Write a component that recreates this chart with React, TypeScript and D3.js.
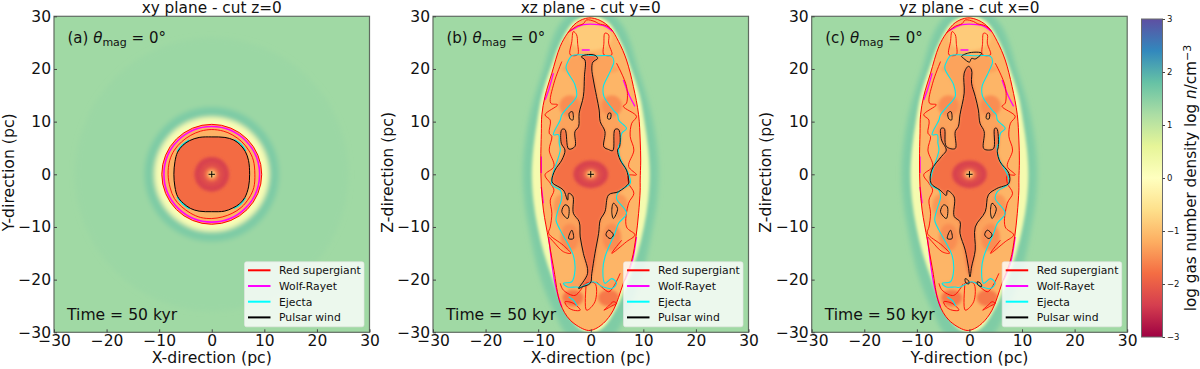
import React, { useEffect, useRef } from 'react';
import * as d3 from 'd3';

type Pt = [number, number];

/* tick + colour data */
const TICKS = [-30, -20, -10, 0, 10, 20, 30];
const CBAR_TICKS = [-3, -2, -1, 0, 1, 2, 3];
const SPECTRAL = ['#9e0142', '#d53e4f', '#f46d43', '#fdae61', '#fee08b', '#ffffbf', '#e6f598', '#abdda4', '#66c2a5', '#3288bd', '#5e4fa2'];
const LEGEND_NAMES = ['Red supergiant', 'Wolf-Rayet', 'Ejecta', 'Pulsar wind'];
const LEGEND_COLORS = ['#ff0000', '#ff00ff', '#00ffff', '#000000'];
const BACKGROUND_N = 1.3;

/* panel (a): radial density profile, outer to inner: radius pc, log n */
const RING_R = [26, 12.8, 10.9, 9.5, 7.2, 3.3, 2.2, 1.3, 0.6];
const RING_N = [1.34, 1.6, 0.15, -1.15, -1.82, -2.35, -2.2, -1.7, -0.6];
const A_RED_R = 9.5;
const A_MAGENTA_R = 9.1;
const A_RED_INNER: Pt[] = [[0, 8.5], [2.2, 8.2], [3.9, 7.5], [5.7, 6.2], [7, 4.6], [7.9, 2.7], [8.2, 0], [8, -2.5], [7.1, -4.5], [5.6, -6.3], [3.9, -7.4], [2, -8.1], [0, -8.4], [-2.1, -8.2], [-4, -7.4], [-5.8, -6.1], [-7.1, -4.6], [-7.9, -2.6], [-8.3, 0], [-8, 2.6], [-7.1, 4.6], [-5.7, 6.2], [-4, 7.4], [-2.1, 8.2]];
const A_BLACK: Pt[] = [[0, 7.1], [2.5, 7], [4.2, 6.5], [5.4, 5.6], [6.4, 4.3], [7, 2.6], [7.2, 0], [7, -2.4], [6.3, -4.4], [5.3, -5.6], [4, -6.4], [2.4, -7], [0, -7.1], [-2.4, -7], [-4, -6.5], [-5.4, -5.5], [-6.5, -4.2], [-7, -2.4], [-7.2, 0], [-7, 2.4], [-6.5, 4.2], [-5.5, 5.5], [-4.2, 6.4], [-2.4, 7]];
const A_CYAN: Pt[][] = [
  [[4.3, 6.6], [5.6, 5.7], [6.5, 4.4]],
  [[6.4, -4.5], [5.5, -5.7], [4.2, -6.5]],
  [[-4.2, -6.6], [-5.6, -5.6], [-6.6, -4.3]],
  [[-6.6, 4.3], [-5.6, 5.6], [-4.3, 6.5]],
];

/* panels (b,c): halo half-widths against height */
const YELLOW_HALF: Pt[] = [[0.4, 30.2], [3.2, 29], [5.8, 25], [7.7, 20], [9.3, 15], [10.2, 10], [10.9, 5], [11.2, 0], [10.9, -5], [10.1, -10], [8.9, -15], [7.2, -20], [5.1, -25], [2.5, -29], [0.4, -30.2]];
const TEAL_HALF: Pt[] = [[3, 31], [6.2, 28], [9, 20], [11.4, 12], [12.6, 5], [12.9, 0], [12.6, -5], [11.8, -10], [9.8, -19], [7, -26], [3.8, -31]];

/* outer shock */
const OUTER: Pt[] = [[-0.4, 29.7], [1.8, 29.2], [3.7, 27.8], [5.3, 25.2], [6.8, 21.7], [8.1, 16.7], [9.1, 11.3], [9.4, 6.5], [9.5, 2.7], [9.4, -1.1], [9.4, -3], [9.1, -7.4], [8.6, -11.9], [7.8, -16.3], [6.2, -20.7], [4.3, -25.8], [2.4, -28.3], [0.5, -29.5], [-0.8, -29.6], [-3.9, -27.7], [-5.8, -24.5], [-7, -18.2], [-8, -12.5], [-9, -6.8], [-9.4, -2.4], [-9.5, 2.7], [-9.4, 7.8], [-9.3, 11.3], [-8.7, 14.8], [-7.4, 19.2], [-5.8, 24.3], [-4.4, 26.8], [-2.7, 28.8]];

/* red inner contours */
const RED_LOOPS: Pt[][] = [
  [[-3.3, 27.1], [-2.7, 26.5], [-2.5, 24.9], [-2.5, 22.7], [-3.9, 22.7], [-3.6, 25.2]],
  [[2.7, 26.8], [3.4, 26.5], [3.4, 24.9], [4, 22.7], [2.5, 22.7], [2.5, 24.9]],
  [[-0.9, -20.7], [0.8, -20.7], [0.8, -24.2], [-0.8, -25.8], [-0.9, -21]],
  [[-4.9, -24.2], [-3.3, -24.5], [-2, -25.8], [-3.3, -25.8], [-4.4, -25.2]],
  [[4.9, -24.5], [4, -25], [2.5, -25.8], [3.4, -25], [4.3, -24.2]],
];
const RED_LINES: Pt[][] = [
  [[-4.4, 26.8], [-2.7, 28.1], [-1.4, 28.6], [-0.8, 29.3], [0.8, 29], [1.5, 28.6], [3, 28.2], [4, 27.4]],
  [[-5.5, 21.4], [-7, 17.3], [-7.6, 13.5], [-6.3, 13.2], [-8.7, 11.3], [-7.7, 10.3], [-7.9, 7.8], [-7.4, 7.2], [-7.9, 4.6], [-7, 1.5], [-8.7, -0.1], [-7.7, -1.7], [-7, -3], [-7.7, -4.9], [-7.4, -7.4], [-7.7, -10], [-8, -11.2], [-5.2, -13.5], [-3.8, -15], [-5.2, -14.7], [-7.1, -12.8], [-7.9, -11.9]],
  [[4.9, 21.1], [6.8, 16.7], [6.8, 13.5], [6.2, 12.9], [8.7, 11], [7.8, 9.7], [7.5, 7.2], [8.2, 4.6], [7.2, 1.5], [8.7, -0.1], [7.2, -0.2], [7.2, -1.7], [8.2, -3.6], [7.2, -5.5], [6.8, -10], [8.4, -11.5], [6.8, -12.8], [4, -15], [5.9, -12.5]],
  [[5.6, -18.8], [4.3, -21.4], [3.4, -22.3], [1.1, -20.4]],
  [[-5.8, -20.7], [-5.2, -22], [-3, -23], [-1.2, -20.8]],
];
const MAGENTA_LINES: Pt[][] = [
  [[6.2, 17.9], [7.4, 14.8], [8.4, 12.9]],
  [[-7.1, 19.2], [-8, 16], [-8.7, 14.1]],
  [[-9.4, 3.4], [-9.4, 0.2]],
  [[-9.4, -2.4], [-9, -5.5]],
  [[-8, -11.9], [-6.8, -20.7], [-5.5, -25.2]],
  [[8.7, -11.9], [7.8, -16.9], [6.5, -20.1]],
  [[-4, 27.2], [-2.7, 27.9], [-1.4, 28.4], [1.5, 28.4], [3, 28], [4.2, 27.1]],
  [[-1.7, 23.6], [-0.2, 23.6]],
];

/* ejecta */
const CYAN: Pt[] = [[-4.2, 21.7], [-3.6, 22.5], [-2, 22.7], [0.8, 22.5], [4, 22.4], [4.4, 21.4], [4, 20.2], [3.4, 18.9], [2.4, 16.7], [2.5, 14.8], [4.3, 12.2], [5.1, 11.3], [5.3, 10.3], [6.8, 8.7], [5.9, 7.8], [5.6, 5.9], [5.3, 5.3], [5.6, 3], [7.2, 0], [7.5, -1.7], [5.3, -3.3], [4.9, -4.6], [6.8, -7.4], [5.3, -9.3], [4.6, -11.2], [2.7, -15.7], [2.3, -18.2], [2.7, -20.7], [4, -19.8], [4.9, -20.7], [4, -21.7], [2.4, -21.4], [0.5, -20.4], [-2, -21.5], [-2.7, -21.4], [-4.4, -21.4], [-5.2, -20.7], [-3.6, -20.4], [-3, -18.2], [-3.3, -15.4], [-4.4, -13.1], [-5.8, -10.6], [-6.6, -8.7], [-6.3, -7.1], [-5.5, -4.3], [-5.8, -3], [-7.4, -2], [-7.2, 0], [-5.8, 4.6], [-6, 5.9], [-6.1, 7.5], [-7.1, 7.5], [-5.8, 10.3], [-5.5, 11.3], [-4.2, 12.9], [-2.7, 14.8], [-3, 17], [-4.7, 20.2]];
const CYAN_BIT: Pt[] = [[-4.2, -23.3], [-3.2, -24], [-2.6, -25]];

/* pulsar wind */
const BLACK_B: Pt[] = [[-1.8, 22.3], [-0.8, 22.7], [0.8, 22.6], [1.3, 22], [0.4, 21.3], [0.2, 20], [0.5, 17.9], [1.1, 14.8], [1.6, 12.2], [1.8, 10], [2.7, 8.1], [2.5, 5.2], [3.4, 4.7], [4.2, 4.5], [4.6, 8.5], [5.3, 8.5], [5.5, 5.3], [5.1, 4.6], [5.6, 2.7], [6.8, 0.8], [7.2, -1.1], [7.2, -1.7], [5.3, -3.3], [3.4, -3.9], [2.7, -7.1], [1.8, -8.7], [1.5, -11.2], [0.8, -15], [0.2, -18.8], [-0.1, -20.7], [-1.7, -21.4], [-2.3, -21.7], [-0.6, -18.8], [-1.4, -15], [-2, -11.9], [-2.2, -9], [-3.3, -7.4], [-3.4, -4.2], [-4.2, -3.6], [-4.4, -4.9], [-5.2, -3], [-7.2, -1.7], [-7.4, -1.1], [-6.8, 0.8], [-5.5, 2.7], [-4.9, 4.6], [-5.6, 5.9], [-5.5, 8.5], [-4.9, 8.5], [-4.2, 4.8], [-3, 5.3], [-3, 8.1], [-2.3, 9.1], [-2.2, 11.6], [-1.4, 14.8], [-1.2, 18.6], [-1.1, 21.7]];
const BLACK_C: Pt[] = [[-0.2, 20.5], [0.4, 19.8], [0.4, 17.3], [1.1, 14.8], [1.7, 12.2], [2, 9.7], [2.8, 8.1], [2.7, 4.9], [3.6, 4.6], [4.6, 4.9], [4.8, 8.7], [5.2, 8.7], [5.5, 5.3], [5.3, 4.3], [5.8, 2.4], [7.5, 0.2], [7.5, -1.7], [5.2, -2.7], [3.6, -3.9], [3, -7.1], [1.1, -10], [1.1, -14.4], [0.4, -17.6], [0.1, -19.5], [-0.2, -17.6], [-0.8, -14.4], [-1.8, -11.2], [-1.8, -9], [-2.9, -8], [-2.9, -4.3], [-4.2, -3.1], [-4.4, -4], [-5.6, -3], [-7.3, -1.7], [-7.2, 0.8], [-5.3, 3.4], [-4.4, 4.6], [-5.3, 6.5], [-5.4, 8.7], [-4.8, 8.7], [-4.4, 5.3], [-2.7, 4.9], [-2.7, 8.1], [-2.1, 9.1], [-1.8, 11.3], [-1, 15.4], [-1, 19.2]];
const BLACK_C_CAP: Pt[] = [[-1.5, 22.4], [0.1, 23.1], [2.3, 23], [1.1, 21.9], [0.4, 22], [0, 21.3], [-1.1, 22]];
const BLACK_C_EXTRA: Pt[][] = [
  [[-0.8, -19.8], [-0.2, -20.2], [-0.1, -20.8], [-0.7, -20.6]],
  [[1.5, -20.4], [2.2, -20.8], [2.3, -21.3], [1.6, -21]],
];
const ISLANDS: Pt[][] = [
  [[-4.1, 11.6], [-3.5, 11.9], [-3.4, 10.3], [-3.9, 10.5]],
  [[3.4, 11.6], [3.8, 11.6], [3.7, 10.5], [3.2, 10.6]],
  [[-4.9, -5.8], [-4.2, -6.2], [-4.4, -8.4], [-5.5, -7.1]],
  [[4.3, -5.5], [5.1, -6.5], [4.3, -8.4], [4, -7.1]],
  [[-3.6, -10.6], [-3.3, -12.2], [-4.2, -12.2]],
  [[3.4, -10.6], [4.3, -11.5], [3.7, -12.2], [2.9, -11.5]],
];

/* density blobs inside the elongated bubble: x, z, rx, rz, log n */
const BLOB_X = [0, 0, -4, 4, -4, 4, -3.4, 3.4, -5.5, 5.5, 0, 0];
const BLOB_Z = [26, 20, 13, 13, -12, -12, -23.5, -23.5, -6, -6, 12, -12];
const BLOB_RX = [4, 5.5, 2, 2, 1.8, 1.8, 2, 2, 1.6, 1.6, 1, 1];
const BLOB_RZ = [2.5, 1, 2, 2, 2.6, 2.6, 1.6, 1.6, 2.2, 2.2, 7, 7];
const BLOB_N = [-0.85, -1.3, -1.5, -1.5, -1.5, -1.5, -1.7, -1.7, -1.4, -1.4, -1.6, -1.6];

const FONT = "'DejaVu Sans', sans-serif";
const color = d3.scaleLinear<string>().domain(d3.range(11).map(i => -3 + i * 0.6)).range(SPECTRAL);

const x = d3.scaleLinear().domain([-30, 30]).range([0, 315.5]);
const y = d3.scaleLinear().domain([-30, 30]).range([316, 0]);
const closed = d3.line<Pt>().x(d => x(d[0])).y(d => y(d[1])).curve(d3.curveCatmullRomClosed.alpha(0.5));
const open = d3.line<Pt>().x(d => x(d[0])).y(d => y(d[1])).curve(d3.curveCatmullRom.alpha(0.5));
const hull = (half: Pt[]) => closed([...half, ...half.slice().reverse().map(d => [-d[0], d[1]] as Pt)]) || '';

function AxisG({ kind, transform, scale, ticks, size, fontSize, pad }: any) {
  const ref = useRef<SVGGElement>(null);
  useEffect(() => {
    const ax = (kind === 'bottom' ? d3.axisBottom(scale) : kind === 'left' ? d3.axisLeft(scale) : d3.axisRight(scale))
      .tickValues(ticks).tickFormat(d3.format('d') as any).tickSize(size).tickPadding(pad);
    const g = d3.select(ref.current!).call(ax as any);
    g.select('.domain').remove();
    g.selectAll('text').attr('font-family', FONT).attr('font-size', fontSize).attr('fill', '#111');
    g.selectAll('line').attr('stroke', '#444');
  }, []);
  return <g ref={ref} transform={transform} />;
}

function Core({ rz }: { rz: number }) {
  // central cavity and the pulsar marker
  return (
    <g>
      <g filter="url(#soft)">
        {RING_R.slice(5).map((r, i) => (
          <ellipse key={r} cx={x(0)} cy={y(0)} rx={x(r) - x(0)} ry={(x(r) - x(0)) * rz} fill={color(RING_N[i + 5])} />
        ))}
      </g>
      <path d={`M${x(-0.6)},${y(0)}H${x(0.6)}M${x(0)},${y(0.6)}V${y(-0.6)}`} stroke="#000" strokeWidth={1} fill="none" />
    </g>
  );
}

function CircularField() {
  return (
    <g>
      <g filter="url(#blur)">
        {RING_R.slice(0, 3).map((r, i) => (
          <circle key={r} cx={x(0)} cy={y(0)} r={x(r) - x(0)} fill={color(RING_N[i])} />
        ))}
      </g>
      <circle cx={x(0)} cy={y(0)} r={x(RING_R[3]) - x(0)} fill={color(RING_N[3])} />
      <path d={closed(A_BLACK) || ''} fill={color(RING_N[4])} />
      <Core rz={1} />
      <circle cx={x(0)} cy={y(0)} r={x(A_MAGENTA_R) - x(0)} fill="none" stroke="#ff00ff" strokeWidth={1.6} />
      <circle cx={x(0)} cy={y(0)} r={x(A_RED_R) - x(0)} fill="none" stroke="#ff0000" strokeWidth={1} />
      <path d={closed(A_RED_INNER) || ''} fill="none" stroke="#ff0000" strokeWidth={0.9} />
      {A_CYAN.map((l, i) => <path key={i} d={open(l) || ''} fill="none" stroke="#00e8f0" strokeWidth={1.3} />)}
      <path d={closed(A_BLACK) || ''} fill="none" stroke="#000" strokeWidth={1} />
    </g>
  );
}

function ElongatedField({ id, black, extras }: { id: string; black: Pt[]; extras: Pt[][] }) {
  return (
    <g>
      <path d={hull(TEAL_HALF)} fill={color(1.58)} filter="url(#blur)" />
      <path d={hull(YELLOW_HALF)} fill={color(0.25)} filter="url(#soft)" />
      <clipPath id={`bubble-${id}`}><path d={closed(OUTER) || ''} /></clipPath>
      <path d={closed(OUTER) || ''} fill={color(-1.12)} />
      <g clipPath={`url(#bubble-${id})`}>
        <g filter="url(#soft)">
          <path d={closed(CYAN) || ''} fill={color(-1.3)} />
          {BLOB_X.map((cx, i) => (
            <ellipse key={i} cx={x(cx)} cy={y(BLOB_Z[i])} rx={x(BLOB_RX[i]) - x(0)} ry={x(BLOB_RZ[i]) - x(0)} fill={color(BLOB_N[i])} />
          ))}
        </g>
        <path d={closed(black) || ''} fill={color(-1.78)} filter="url(#soft)" />
      </g>
      <Core rz={0.8} />
      {MAGENTA_LINES.map((l, i) => <path key={i} d={open(l) || ''} fill="none" stroke="#ff00ff" strokeWidth={1.3} />)}
      <path d={closed(OUTER) || ''} fill="none" stroke="#ff0000" strokeWidth={1} />
      {RED_LINES.map((l, i) => <path key={i} d={open(l) || ''} fill="none" stroke="#ff0000" strokeWidth={0.9} />)}
      {RED_LOOPS.map((l, i) => <path key={i} d={closed(l) || ''} fill="none" stroke="#ff0000" strokeWidth={0.9} />)}
      <path d={closed(CYAN) || ''} fill="none" stroke="#00e8f0" strokeWidth={1.1} />
      <path d={open(CYAN_BIT) || ''} fill="none" stroke="#00e8f0" strokeWidth={1.1} />
      <path d={closed(black) || ''} fill="none" stroke="#111" strokeWidth={1} />
      {[...ISLANDS, ...extras].map((l, i) => <path key={i} d={closed(l) || ''} fill="none" stroke="#111" strokeWidth={1} />)}
    </g>
  );
}

function Panel({ id, left, title, xlabel, ylabel, tag, field }: any) {
  const top = 16.3;
  return (
    <g transform={`translate(${left},${top})`}>
      <clipPath id={`clip-${id}`}><rect width={315.5} height={316} /></clipPath>
      <g clipPath={`url(#clip-${id})`}>
        <rect width={315.5} height={316} fill={color(BACKGROUND_N)} />
        {field}
      </g>
      <rect width={315.5} height={316} fill="none" stroke="#5f6b60" strokeWidth={1.2} />
      <AxisG kind="bottom" transform="translate(0,316)" scale={x} ticks={TICKS} size={-3} fontSize={15.5} pad={3} />
      <AxisG kind="left" scale={y} ticks={TICKS} size={-3} fontSize={15.5} pad={3} />
      <text x={x(0)} y={-3.8} textAnchor="middle" fontFamily={FONT} fontSize={15.3} fill="#111">{title}</text>
      <text x={x(0)} y={347} textAnchor="middle" fontFamily={FONT} fontSize={15.7} fill="#111">{xlabel}</text>
      <text transform={`translate(-40.5,${y(0) - 2}) rotate(-90)`} textAnchor="middle" fontFamily={FONT} fontSize={15.7} fill="#111">{ylabel}</text>
      <text x={13.5} y={27} fontFamily={FONT} fontSize={15} fill="#111">
        {tag} <tspan fontStyle="italic">θ</tspan><tspan dy={3} fontSize={11}>mag</tspan><tspan dy={-3}> = 0°</tspan>
      </text>
      <text x={13} y={304} fontFamily={FONT} fontSize={15.6} fill="#111">Time = 50 kyr</text>
      <g transform="translate(190.5,245.5)">
        <rect width={119.5} height={65} rx={2} fill="#fff" fillOpacity={0.8} stroke="#e4e4e4" strokeOpacity={0.8} strokeWidth={0.8} />
        {LEGEND_NAMES.map((n, i) => (
          <g key={n} transform={`translate(0,${8.5 + i * 15.7})`}>
            <line x1={3.5} x2={26} stroke={LEGEND_COLORS[i]} strokeWidth={2} />
            <text x={34.5} y={4} fontFamily={FONT} fontSize={10.8} fill="#111">{n}</text>
          </g>
        ))}
      </g>
    </g>
  );
}

function Colorbar() {
  const c = d3.scaleLinear().domain([-3, 3]).range([337, 19]);
  return (
    <g>
      <defs>
        <linearGradient id="cbar" x1="0" y1="1" x2="0" y2="0">
          {SPECTRAL.map((s, i) => <stop key={s} offset={i / 10} stopColor={s} />)}
        </linearGradient>
      </defs>
      <rect x={1141.5} y={19} width={21} height={318} fill="url(#cbar)" stroke="#6b6b6b" strokeWidth={1} />
      <AxisG kind="right" transform="translate(1162.5,0)" scale={c} ticks={CBAR_TICKS} size={2.5} fontSize={8.5} pad={2} />
      <text transform="translate(1196,178) rotate(-90)" textAnchor="middle" fontFamily={FONT} fontSize={15.2} fill="#111">
        log gas number density log <tspan fontStyle="italic">n</tspan>/<tspan>cm</tspan><tspan dy={-5} fontSize={11}>−3</tspan>
      </text>
    </g>
  );
}

export default function App() {
  return (
    <svg width={1200} height={369} style={{ position: 'absolute', left: 0, top: 0, background: '#fff' }}>
      <defs>
        <filter id="blur" x="-30%" y="-30%" width="160%" height="160%"><feGaussianBlur stdDeviation={2.6} /></filter>
        <filter id="soft" x="-30%" y="-30%" width="160%" height="160%"><feGaussianBlur stdDeviation={1.4} /></filter>
      </defs>
      <Panel id="a" left={54} title="xy plane - cut z=0" xlabel="X-direction (pc)" ylabel="Y-direction (pc)" tag="(a)" field={<CircularField />} />
      <Panel id="b" left={433} title="xz plane - cut y=0" xlabel="X-direction (pc)" ylabel="Z-direction (pc)" tag="(b)" field={<ElongatedField id="b" black={BLACK_B} extras={[]} />} />
      <Panel id="c" left={811.7} title="yz plane - cut x=0" xlabel="Y-direction (pc)" ylabel="Z-direction (pc)" tag="(c)" field={<ElongatedField id="c" black={BLACK_C} extras={[BLACK_C_CAP, ...BLACK_C_EXTRA]} />} />
      <Colorbar />
    </svg>
  );
}
